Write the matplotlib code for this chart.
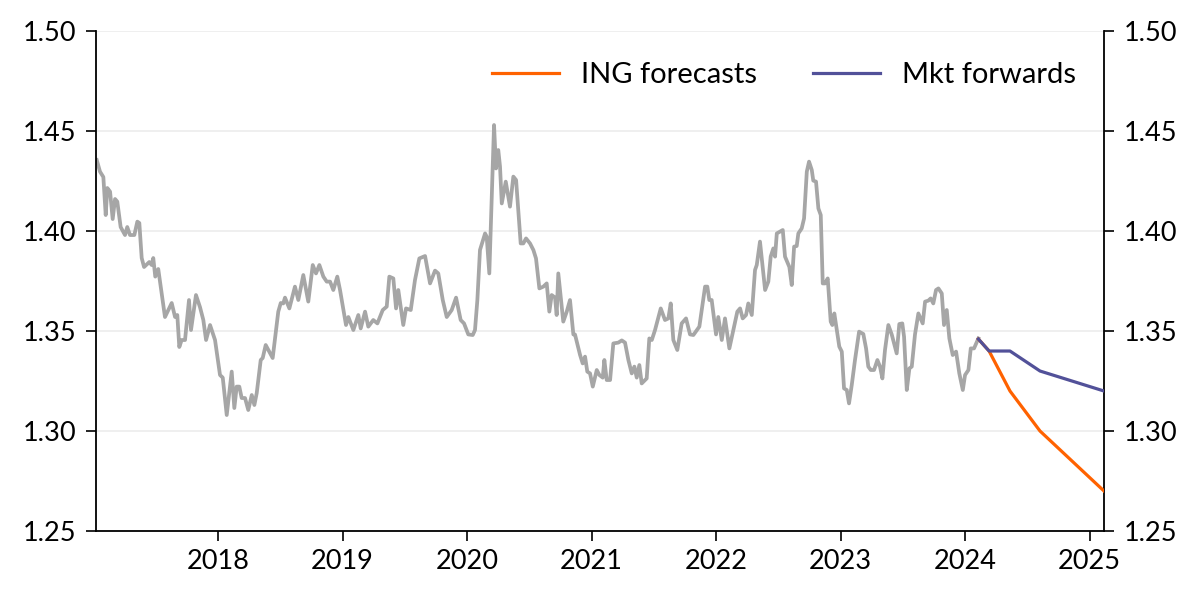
import numpy as np
import matplotlib
matplotlib.use('Agg')
import matplotlib.pyplot as plt

plt.rcParams['font.family'] = ['Lato', 'DejaVu Sans']

# spot history (decimal year, level)
hist_t = [2017.026, 2017.052, 2017.079, 2017.098, 2017.111, 2017.133, 2017.154, 2017.173, 2017.191, 2017.218,
          2017.253, 2017.271, 2017.293, 2017.328, 2017.352, 2017.368, 2017.387, 2017.406, 2017.448, 2017.467,
          2017.480, 2017.496, 2017.520, 2017.574, 2017.628, 2017.655, 2017.673, 2017.689, 2017.708, 2017.735,
          2017.767, 2017.783, 2017.823, 2017.855, 2017.882, 2017.904, 2017.936, 2017.976, 2018.016, 2018.038,
          2018.070, 2018.110, 2018.131, 2018.150, 2018.171, 2018.190, 2018.217, 2018.243, 2018.271, 2018.292,
          2018.311, 2018.343, 2018.359, 2018.383, 2018.439, 2018.484, 2018.504, 2018.524, 2018.538, 2018.573,
          2018.618, 2018.645, 2018.685, 2018.725, 2018.761, 2018.787, 2018.814, 2018.846, 2018.873, 2018.900,
          2018.926, 2018.958, 2018.980, 2019.028, 2019.047, 2019.087, 2019.127, 2019.146, 2019.181, 2019.207,
          2019.247, 2019.280, 2019.323, 2019.355, 2019.376, 2019.408, 2019.430, 2019.448, 2019.488, 2019.510,
          2019.548, 2019.582, 2019.617, 2019.663, 2019.703, 2019.743, 2019.769, 2019.805, 2019.837, 2019.877,
          2019.912, 2019.949, 2019.976, 2020.010, 2020.046, 2020.064, 2020.083, 2020.104, 2020.145, 2020.158,
          2020.179, 2020.217, 2020.233, 2020.251, 2020.265, 2020.279, 2020.311, 2020.345, 2020.372, 2020.394,
          2020.431, 2020.452, 2020.474, 2020.506, 2020.533, 2020.554, 2020.581, 2020.613, 2020.640, 2020.661,
          2020.680, 2020.707, 2020.720, 2020.733, 2020.773, 2020.801, 2020.827, 2020.854, 2020.867, 2020.908,
          2020.929, 2020.948, 2020.966, 2020.988, 2021.010, 2021.042, 2021.063, 2021.090, 2021.103, 2021.122,
          2021.149, 2021.175, 2021.215, 2021.243, 2021.269, 2021.296, 2021.323, 2021.344, 2021.363, 2021.384,
          2021.403, 2021.443, 2021.464, 2021.484, 2021.510, 2021.556, 2021.590, 2021.617, 2021.636, 2021.657,
          2021.689, 2021.724, 2021.759, 2021.791, 2021.818, 2021.866, 2021.912, 2021.930, 2021.946, 2021.965,
          2022.000, 2022.018, 2022.046, 2022.072, 2022.107, 2022.139, 2022.171, 2022.193, 2022.214, 2022.241,
          2022.259, 2022.287, 2022.313, 2022.327, 2022.353, 2022.394, 2022.420, 2022.439, 2022.460, 2022.474,
          2022.488, 2022.536, 2022.554, 2022.589, 2022.608, 2022.627, 2022.648, 2022.661, 2022.688, 2022.707,
          2022.729, 2022.747, 2022.769, 2022.781, 2022.803, 2022.822, 2022.841, 2022.857, 2022.876, 2022.897,
          2022.921, 2022.934, 2022.950, 2022.990, 2023.010, 2023.028, 2023.050, 2023.068, 2023.090, 2023.116,
          2023.149, 2023.183, 2023.205, 2023.223, 2023.243, 2023.269, 2023.296, 2023.317, 2023.336, 2023.357,
          2023.384, 2023.411, 2023.451, 2023.472, 2023.496, 2023.510, 2023.532, 2023.553, 2023.572, 2023.598,
          2023.625, 2023.660, 2023.679, 2023.705, 2023.724, 2023.745, 2023.767, 2023.786, 2023.813, 2023.831,
          2023.853, 2023.874, 2023.901, 2023.928, 2023.954, 2023.982, 2024.000, 2024.027, 2024.046, 2024.072,
          2024.107]
hist_v = [1.4355, 1.4297, 1.4270, 1.4080, 1.4215, 1.4197, 1.4060, 1.4160, 1.4147, 1.4020,
          1.3980, 1.4020, 1.3980, 1.3980, 1.4047, 1.4040, 1.3865, 1.3820, 1.3845, 1.3830,
          1.3865, 1.3772, 1.3810, 1.3570, 1.3640, 1.3570, 1.3580, 1.3420, 1.3455, 1.3455,
          1.3655, 1.3505, 1.3680, 1.3620, 1.3555, 1.3455, 1.3530, 1.3455, 1.3280, 1.3267,
          1.3080, 1.3297, 1.3115, 1.3222, 1.3222, 1.3165, 1.3165, 1.3105, 1.3180, 1.3130,
          1.3190, 1.3355, 1.3365, 1.3430, 1.3365, 1.3597, 1.3640, 1.3638, 1.3667, 1.3613,
          1.3722, 1.3655, 1.3780, 1.3647, 1.3830, 1.3788, 1.3830, 1.3772, 1.3747, 1.3747,
          1.3705, 1.3772, 1.3705, 1.3530, 1.3570, 1.3505, 1.3580, 1.3513, 1.3597, 1.3522,
          1.3555, 1.3538, 1.3605, 1.3622, 1.3772, 1.3763, 1.3613, 1.3705, 1.3530, 1.3613,
          1.3605, 1.3755, 1.3863, 1.3875, 1.3738, 1.3802, 1.3788, 1.3655, 1.3570, 1.3605,
          1.3667, 1.3555, 1.3538, 1.3483, 1.3480, 1.3505, 1.3655, 1.3905, 1.3988, 1.3972,
          1.3788, 1.4530, 1.4313, 1.4405, 1.4322, 1.4138, 1.4247, 1.4122, 1.4272, 1.4255,
          1.3938, 1.3938, 1.3963, 1.3938, 1.3905, 1.3863, 1.3713, 1.3722, 1.3738, 1.3597,
          1.3680, 1.3667, 1.3580, 1.3788, 1.3547, 1.3597, 1.3655, 1.3483, 1.3483, 1.3380,
          1.3338, 1.3372, 1.3297, 1.3288, 1.3222, 1.3305, 1.3280, 1.3267, 1.3355, 1.3255,
          1.3255, 1.3438, 1.3442, 1.3453, 1.3442, 1.3355, 1.3288, 1.3322, 1.3267, 1.3330,
          1.3238, 1.3263, 1.3463, 1.3455, 1.3505, 1.3613, 1.3555, 1.3563, 1.3638, 1.3455,
          1.3405, 1.3538, 1.3563, 1.3483, 1.3480, 1.3522, 1.3722, 1.3722, 1.3655, 1.3655,
          1.3483, 1.3570, 1.3455, 1.3563, 1.3413, 1.3505, 1.3597, 1.3613, 1.3563, 1.3580,
          1.3638, 1.3580, 1.3805, 1.3830, 1.3947, 1.3705, 1.3747, 1.3872, 1.3913, 1.3872,
          1.3988, 1.4005, 1.3872, 1.3820, 1.3730, 1.3922, 1.3925, 1.3988, 1.4013, 1.4063,
          1.4297, 1.4347, 1.4305, 1.4252, 1.4247, 1.4113, 1.4080, 1.3738, 1.3738, 1.3763,
          1.3547, 1.3530, 1.3588, 1.3422, 1.3397, 1.3213, 1.3205, 1.3138, 1.3230, 1.3355,
          1.3497, 1.3485, 1.3413, 1.3322, 1.3305, 1.3305, 1.3355, 1.3322, 1.3263, 1.3405,
          1.3530, 1.3483, 1.3388, 1.3535, 1.3538, 1.3472, 1.3205, 1.3313, 1.3322, 1.3483,
          1.3588, 1.3538, 1.3647, 1.3652, 1.3663, 1.3638, 1.3705, 1.3713, 1.3688, 1.3530,
          1.3605, 1.3463, 1.3380, 1.3397, 1.3288, 1.3205, 1.3280, 1.3305, 1.3413, 1.3413,
          1.3463]

# forecast paths
fc_t = [2024.107, 2024.193, 2024.361, 2024.602, 2025.116]
ing_fc = [1.346, 1.340, 1.320, 1.300, 1.270]
mkt_fwd = [1.346, 1.340, 1.340, 1.330, 1.320]

years = [2018, 2019, 2020, 2021, 2022, 2023, 2024, 2025]
yticks = [1.25, 1.30, 1.35, 1.40, 1.45, 1.50]

fig = plt.figure(figsize=(12, 5.99), dpi=100)
ax = fig.add_axes([0.08, 0.1135, 0.84, 0.8347])

ax.plot(hist_t, hist_v, color='#a6a6a6', lw=2.7, solid_joinstyle='round', zorder=2)
ax.plot(fc_t, ing_fc, color='#ff6200', lw=2.3, label='ING forecasts', zorder=3)
ax.plot(fc_t, mkt_fwd, color='#525199', lw=2.3, label='Mkt forwards', zorder=4)

ax.set_xlim(2017.02, 2025.116)
ax.set_ylim(1.25, 1.50)
ax.set_xticks(years)
ax.set_xticklabels([str(y) for y in years])
ax.set_yticks(yticks)
ax.set_yticklabels(['%.2f' % v for v in yticks])
ax.yaxis.grid(True, color='#ececec', lw=1.2, zorder=0)
ax.set_axisbelow(True)

ax.spines['top'].set_visible(False)
for s in ['left', 'right', 'bottom']:
    ax.spines[s].set_linewidth(1.3)
    ax.spines[s].set_color('black')

ax.tick_params(axis='y', which='both', left=True, right=True, labelleft=True, labelright=True,
               direction='out', length=7, width=1.2, labelsize=19.5, pad=7)
ax.tick_params(axis='x', direction='out', length=7, width=1.2, labelsize=19.5, pad=6)

leg = ax.legend(loc='upper right', ncol=2, frameon=False, fontsize=21,
                handlelength=2.3, columnspacing=1.9, handletextpad=0.75,
                bbox_to_anchor=(0.998, 0.99))

fig.savefig('out.png', dpi=100)
